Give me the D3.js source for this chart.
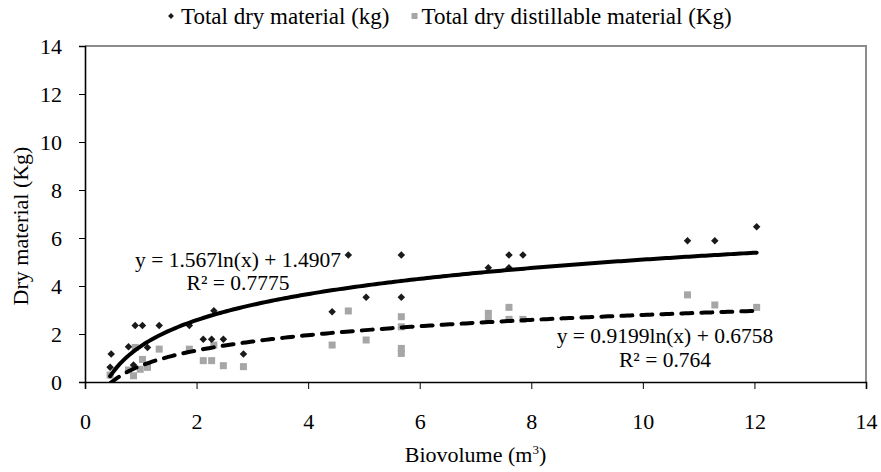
<!DOCTYPE html>
<html>
<head>
<meta charset="utf-8">
<script src="https://cdn.jsdelivr.net/npm/d3@7"></script>
<style>
  html, body { margin: 0; padding: 0; background: #fff; }
</style>
</head>
<body>
<svg id="chart" width="881" height="472"></svg>
<script>
// Biovolume (m³) vs total dry material
const dryX = [0.45, 0.47, 0.78, 0.87, 0.90, 1.03, 1.12, 1.33, 1.87, 2.12, 2.27, 2.31, 2.48, 2.84,
              4.43, 4.72, 5.04, 5.67, 5.67, 7.23, 7.60, 7.60, 7.85, 10.80, 11.29, 12.04];
const dryY = [0.61, 1.17, 1.47, 0.71, 2.35, 2.35, 1.44, 2.35, 2.35, 1.78, 1.78, 2.97, 1.78, 1.17,
              2.93, 5.29, 3.53, 5.29, 3.53, 4.76, 5.29, 4.76, 5.29, 5.89, 5.89, 6.47];

// Biovolume (m³) vs total dry distillable material
const distX = [0.45, 0.78, 0.87, 0.90, 0.99, 1.03, 1.12, 1.33, 1.87, 2.12, 2.27, 2.31, 2.48, 2.84,
               4.43, 4.72, 5.04, 5.67, 5.67, 5.67, 5.67, 7.23, 7.23, 7.60, 7.60, 7.85, 10.80, 11.29, 12.04];
const distY = [0.29, 0.50, 0.26, 1.44, 0.53, 0.94, 0.61, 1.37, 1.37, 0.89, 0.89, 1.54, 0.68, 0.64,
               1.54, 2.96, 1.75, 2.72, 2.30, 1.40, 1.19, 2.86, 2.58, 3.11, 2.61, 2.61, 3.63, 3.21, 3.11];

// Logarithmic trendlines y = a·ln(x) + b
const trendA = [1.567, 0.9199];
const trendB = [1.4907, 0.6758];
const trendR2 = ["0.7775", "0.764"];

const seriesNames = ["Total dry material (kg)", "Total dry distillable material (Kg)"];
const xTicks = [0, 2, 4, 6, 8, 10, 12, 14];
const yTicks = [0, 2, 4, 6, 8, 10, 12, 14];

const FONT = "'Liberation Serif', 'Times New Roman', serif";
const svg = d3.select("#chart");
const padL = 85, padR = 866, padT = 46, padB = 382;

const x = d3.scaleLinear().domain([0, 14]).range([padL, padR]);
const y = d3.scaleLinear().domain([0, 14]).range([padB, padT]);

function label(sel, size) {
  return sel.style("font-family", FONT).style("font-size", size + "px").attr("fill", "#000");
}

// plot-area frame (top and right edges)
svg.append("path")
  .attr("d", `M${padL},${padT}H${padR}V${padB}`)
  .attr("fill", "none").attr("stroke", "#8c8c8c").attr("stroke-width", 2);

// axes
const xAxis = svg.append("g").attr("transform", `translate(0,${padB})`)
  .call(d3.axisBottom(x).tickValues(xTicks).tickSize(7).tickFormat(d3.format("d")));
const yAxis = svg.append("g").attr("transform", `translate(${padL},0)`)
  .call(d3.axisLeft(y).tickValues(yTicks).tickSize(6).tickFormat(d3.format("d")));
[xAxis, yAxis].forEach(g => {
  g.select(".domain").attr("stroke", "#000").attr("stroke-width", 1.6);
  g.selectAll(".tick line").attr("stroke", "#000").attr("stroke-width", 1);
  label(g.selectAll(".tick text"), 22);
});
xAxis.selectAll(".tick text").attr("dy", null).attr("y", 46.5);
yAxis.selectAll(".tick text").attr("x", -23).attr("dy", "0.34em");

// axis titles
const xTitle = label(svg.append("text"), 22)
  .attr("x", (padL + padR) / 2).attr("y", 462).attr("text-anchor", "middle");
xTitle.append("tspan").text("Biovolume (m");
xTitle.append("tspan").style("font-size", "13px").attr("dy", -8).text("3");
xTitle.append("tspan").attr("dy", 8).text(")");
label(svg.append("text"), 22)
  .attr("transform", "translate(28,226) rotate(-90)")
  .attr("text-anchor", "middle")
  .text("Dry material (Kg)");

// clip for trendlines
svg.append("clipPath").attr("id", "plotClip")
  .append("rect").attr("x", padL).attr("y", padT).attr("width", padR - padL).attr("height", padB - padT);

// markers
const plot = svg.append("g");
plot.selectAll(".dist").data(distX.map((d, i) => [d, distY[i]])).join("rect")
  .attr("class", "dist")
  .attr("x", d => x(d[0]) - 3.5).attr("y", d => y(d[1]) - 3.5)
  .attr("width", 7).attr("height", 7).attr("fill", "#a6a6a6");
const diamond = d3.symbol().type(d3.symbolDiamond2).size(36);
plot.selectAll(".dry").data(dryX.map((d, i) => [d, dryY[i]])).join("path")
  .attr("class", "dry")
  .attr("transform", d => `translate(${x(d[0])},${y(d[1])})`)
  .attr("d", diamond).attr("fill", "#1a1a1a");

// trendlines over the data range
const xMin = d3.min(dryX.concat(distX)), xMax = d3.max(dryX.concat(distX));
const samples = d3.range(0, 201).map(i => xMin + (xMax - xMin) * i / 200);
const line = d3.line().x(d => x(d[0])).y(d => y(d[1]));
trendA.forEach((a, k) => {
  plot.append("path")
    .datum(samples.map(v => [v, a * Math.log(v) + trendB[k]]))
    .attr("d", line)
    .attr("clip-path", "url(#plotClip)")
    .attr("fill", "none").attr("stroke", "#000").attr("stroke-width", 4)
    .attr("stroke-linecap", "round")
    .attr("stroke-dasharray", k === 1 ? "11,9" : null);
});

// trendline equations
const eqPos = [[238, 267, 290], [665, 343, 367]];
trendA.forEach((a, k) => {
  const [cx, y1, y2] = eqPos[k];
  label(svg.append("text"), 21.5).attr("x", cx).attr("y", y1).attr("text-anchor", "middle")
    .text(`y = ${a}ln(x) + ${trendB[k]}`);
  label(svg.append("text"), 21.5).attr("x", cx).attr("y", y2).attr("text-anchor", "middle")
    .text(`R² = ${trendR2[k]}`);
});

// legend
const leg = svg.append("g");
leg.append("path").attr("transform", "translate(171,16)")
  .attr("d", d3.symbol().type(d3.symbolDiamond2).size(22)).attr("fill", "#1a1a1a");
const t1 = label(leg.append("text"), 23).attr("x", 181).attr("y", 24).text(seriesNames[0]);
const sqX = 181 + t1.node().getComputedTextLength() + 22;
leg.append("rect").attr("x", sqX).attr("y", 13).attr("width", 6).attr("height", 6).attr("fill", "#a6a6a6");
label(leg.append("text"), 23).attr("x", sqX + 10).attr("y", 24).text(seriesNames[1]);
</script>
</body>
</html>
